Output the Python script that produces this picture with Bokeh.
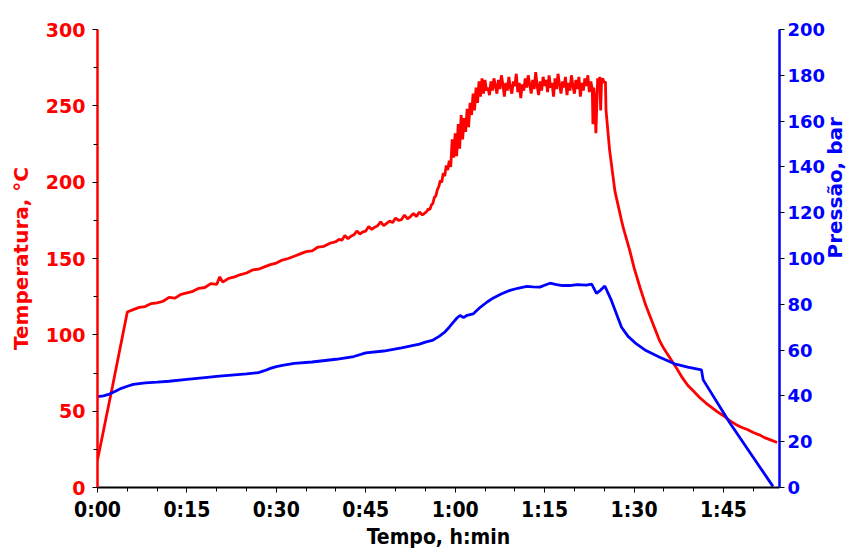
import math
from bokeh.plotting import figure
from bokeh.models import Range1d, LinearAxis, FixedTicker
from bokeh.embed import file_html
from bokeh.resources import INLINE

# Temperature record (minutes, °C)
temp_time = [
    0, 2.5, 5, 6, 7, 8, 9, 10, 11, 12, 13, 14, 15, 16, 17, 18, 19, 20, 20.5,
    21, 22, 23, 24, 25, 26, 27, 28, 29, 30, 31, 32, 33, 34, 35, 36, 37, 38, 39,
    40, 40.5, 41, 41.5, 42, 42.5, 43, 43.5, 44, 44.5, 45, 45.5, 46, 46.5,
    47, 47.5, 48, 48.5, 49, 49.5, 50, 50.5, 51, 51.5, 52, 52.5, 53, 53.5,
    54, 54.5,
    55, 55.25, 55.5, 55.75, 56, 56.25, 56.5, 56.75, 57, 57.25, 57.5, 57.75,
    58, 58.25, 58.5, 58.75, 59, 59.25, 59.5, 59.75, 60, 60.25, 60.5, 60.75,
    61, 61.25, 61.5, 61.75, 62, 62.25, 62.5, 62.75, 63, 63.25, 63.5, 63.75,
    64, 64.25, 64.5, 64.75, 65, 65.25,
    65.5, 65.75, 66, 66.25, 66.5, 66.75, 67, 67.25, 67.5, 67.75, 68, 68.25,
    68.5, 68.75, 69, 69.25, 69.5, 69.75, 70, 70.25, 70.5, 70.75, 71, 71.25,
    71.5, 71.75, 72, 72.25, 72.5, 72.75, 73, 73.25, 73.5, 73.75, 74, 74.25,
    74.5, 74.75, 75, 75.25, 75.5, 75.75, 76, 76.25, 76.5, 76.75, 77, 77.25,
    77.5, 77.75, 78, 78.25, 78.5, 78.75, 79, 79.25, 79.5, 79.75, 80, 80.25,
    80.5, 80.75, 81, 81.25, 81.5, 81.75, 82, 82.25, 82.5, 82.75, 83,
    83.1, 83.25, 83.4, 83.6, 83.75, 83.9, 84.1, 84.25, 84.4, 84.55, 84.75,
    85, 85.2, 85.3, 85.9, 86.8, 87.9, 88.2, 89.3, 90, 91, 92, 92.6, 93.5,
    94.3, 95, 96, 97, 98, 99, 100, 101, 102, 103, 104, 105, 106, 107, 108,
    109, 110, 111, 112, 113, 114,
]
temperature = [
    18, 66, 115, 116.5, 118, 118.5, 120.5, 121, 122, 124.5, 124, 126.5, 127.5,
    128.5, 130.5, 131, 133.5, 133, 138, 134.5, 137, 138, 139.5, 140.5, 142.5,
    143, 144.5, 146, 147, 149, 150, 151.5, 153, 154.5, 155, 157.5, 158, 160,
    161, 162.5, 162, 165, 163, 164.5, 165.5, 168, 166, 167.5, 168, 171, 169,
    170.5, 171.5, 174, 171.5, 173, 174.5, 173.5, 176.5, 175, 175.5, 178.5,
    176, 177.5, 179.5, 177.5, 180.5, 178.5,
    180, 181, 182.5, 182, 185, 186, 190, 191, 195, 197, 201, 200,
    206, 204, 211, 208, 214, 210, 228, 216, 232, 217, 238, 222,
    244, 228, 242, 233, 248, 236, 252, 244, 258, 247, 262, 252,
    266, 256, 268, 258, 267, 260,
    262, 257, 266, 260, 268, 263, 258, 267, 261, 270, 264, 256,
    265, 260, 269, 262, 258, 266, 263, 271, 259, 265, 255, 264,
    260, 268, 262, 270, 264, 258, 267, 261, 272, 263, 257, 266,
    260, 269, 263, 267, 259, 270, 262, 265, 256, 268, 261, 271,
    264, 258, 266, 262, 269, 257, 265, 260, 270, 263, 258, 267,
    261, 269, 256, 265, 260, 268, 263, 270, 259, 266, 261,
    238, 262, 255, 232, 250, 268, 264, 269, 247, 266, 268,
    265, 266, 247, 221, 194, 175, 170, 155, 144, 131, 119, 113, 104,
    96, 91, 85, 79, 72.5, 67, 63, 59, 55.5, 52.5, 49.5, 47, 44, 41.5, 39.5,
    38, 36, 34.5, 32.5, 31, 29.5,
]

# Pressure record (minutes, bar)
press_time = [
    0, 1, 2, 3, 4, 5, 6, 7, 8, 10, 12, 15, 18, 20, 22, 25, 27, 28, 29, 30,
    31, 33, 36, 40, 43, 45, 48, 51, 54, 55, 56.3, 57.3, 58.3, 59, 59.7,
    60.3, 60.8, 61.4, 62, 63, 64.2, 65.3, 66.4, 67.8, 69.2, 70.5, 72, 73,
    74.2, 75, 75.9, 77, 78, 79.2, 80.5, 82, 82.9, 83.7, 84.4, 85.1, 86.2,
    87.9, 89, 90.4, 92, 94.3, 96.8, 99, 101.3, 101.6, 106, 113.3,
]
pressure = [
    39.7, 40, 40.8, 42, 43.3, 44.2, 45, 45.4, 45.7, 46, 46.4, 47.2, 48, 48.5,
    49, 49.6, 50.2, 51, 52, 52.8, 53.3, 54.2, 54.8, 56, 57.2, 58.8, 59.6, 61,
    62.6, 63.5, 64.4, 66, 68, 70, 72.2, 74, 75.1, 74.2, 75.2, 75.8, 78.7,
    80.9, 82.8, 84.6, 86.1, 87, 87.8, 87.6, 87.5, 88.3, 89.2, 88.6, 88.2,
    88.2, 88.6, 88.4, 88.8, 84.8, 86.2, 88, 81.7, 70, 66, 62.7, 59.8, 56.9,
    54, 52.6, 51.4, 47, 28.5, 0.5,
]

# Axis ticks and labels
time_ticks = [0, 15, 30, 45, 60, 75, 90, 105]
time_labels = ["0:00", "0:15", "0:30", "0:45", "1:00", "1:15", "1:30", "1:45"]
time_minor = [0, 5, 10, 15, 20, 25, 30, 35, 40, 45, 50, 55, 60, 65, 70, 75,
              80, 85, 90, 95, 100, 105, 110]
temp_ticks = [0, 50, 100, 150, 200, 250, 300]
temp_minor = [0, 25, 50, 75, 100, 125, 150, 175, 200, 225, 250, 275, 300]
press_ticks = [0, 20, 40, 60, 80, 100, 120, 140, 160, 180, 200]

RED = "#ff0000"
BLUE = "#0000ff"
WIDE = "'DejaVu Sans', sans-serif"
NARROW = "'Liberation Sans Narrow', 'DejaVu Sans Condensed', 'Liberation Sans', sans-serif"

p = figure(
    width=862, height=552,
    x_range=Range1d(0, 114.4), y_range=Range1d(0, 300),
    output_backend="svg", toolbar_location=None,
    min_border_left=97, min_border_right=82,
    min_border_top=29, min_border_bottom=65,
)
p.outline_line_color = None
p.xgrid.visible = False
p.ygrid.visible = False
p.extra_y_ranges = {"press": Range1d(0, 200)}

p.line(temp_time, temperature, line_color=RED, line_width=2.8)
p.line(press_time, pressure, line_color=BLUE, line_width=2.8, y_range_name="press")

# bottom axis: time
xa = p.xaxis[0]
xa.ticker = FixedTicker(ticks=time_ticks, minor_ticks=time_minor)
xa.major_label_overrides = {t: s for t, s in zip(time_ticks, time_labels)}
xa.axis_label = "Tempo, h:min"
xa.axis_line_color = "black"
xa.axis_line_width = 2
xa.major_tick_line_color = "black"
xa.minor_tick_line_color = "black"
xa.major_tick_in = 0
xa.major_tick_out = 5
xa.minor_tick_in = 0
xa.minor_tick_out = 4
xa.major_label_standoff = 5
xa.axis_label_standoff = 0
xa.major_label_text_font = NARROW
xa.major_label_text_font_size = "21px"
xa.major_label_text_font_style = "bold"
xa.major_label_text_color = "black"
xa.axis_label_text_font = NARROW
xa.axis_label_text_font_size = "21px"
xa.axis_label_text_font_style = "bold"
xa.axis_label_text_color = "black"

# left axis: temperature
ya = p.yaxis[0]
ya.ticker = FixedTicker(ticks=temp_ticks, minor_ticks=temp_minor)
ya.axis_label = "Temperatura, °C"
ya.axis_line_color = RED
ya.axis_line_width = 2.5
ya.major_tick_line_color = "black"
ya.minor_tick_line_color = "black"
ya.major_tick_in = 0
ya.major_tick_out = 5
ya.minor_tick_in = 0
ya.minor_tick_out = 4
ya.major_label_standoff = 7
ya.axis_label_standoff = 10
ya.major_label_text_font = WIDE
ya.major_label_text_font_size = "19px"
ya.major_label_text_font_style = "bold"
ya.major_label_text_color = RED
ya.axis_label_text_font = WIDE
ya.axis_label_text_font_size = "20px"
ya.axis_label_text_font_style = "bold"
ya.axis_label_text_color = RED

# right axis: pressure
ra = LinearAxis(y_range_name="press", axis_label="Pressão, bar")
ra.ticker = FixedTicker(ticks=press_ticks, minor_ticks=[])
ra.axis_line_color = BLUE
ra.axis_line_width = 2.5
ra.major_tick_line_color = "black"
ra.major_tick_in = 0
ra.major_tick_out = 5
ra.minor_tick_line_color = None
ra.major_label_standoff = 3
ra.axis_label_standoff = 7
ra.axis_label_orientation = math.pi / 2
ra.major_label_text_font = WIDE
ra.major_label_text_font_size = "18px"
ra.major_label_text_font_style = "bold"
ra.major_label_text_color = BLUE
ra.axis_label_text_font = WIDE
ra.axis_label_text_font_size = "20px"
ra.axis_label_text_font_style = "bold"
ra.axis_label_text_color = BLUE
p.add_layout(ra, "right")

open("out.html", "w").write(file_html(p, INLINE))
